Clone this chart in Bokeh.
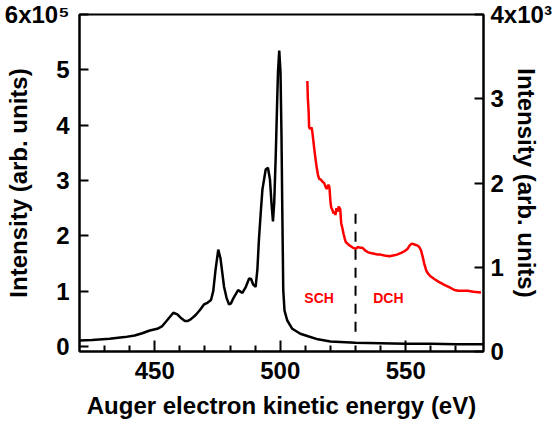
from bokeh.plotting import figure
from bokeh.models import Range1d, LinearAxis, FixedTicker
from bokeh.embed import file_html
from bokeh.resources import INLINE
from bokeh.core.properties import value

# ---- data ----
# black: Auger spectrum (left axis, units of 1e5)
black_x = [420, 425, 432, 438, 442, 445, 448, 451, 453, 455, 457.4, 459, 460.3, 462, 463,
           464.3, 466.3, 468, 469.6, 471, 472.4, 473.3, 474.2, 475.3, 476.2, 477, 477.6,
           478.6, 479.6, 480.4, 481.3, 483.2, 484.9, 486.3, 487.6, 488.4, 489.2, 490.2,
           490.9, 491.5, 492.2, 492.9, 494.2, 495.1, 495.9, 496.5, 497.1, 497.6, 498.2,
           498.7, 499.1, 499.6, 500.1, 500.5, 500.8, 501.2, 501.7, 502.8, 504.8, 508,
           511.4, 515, 520, 530, 540, 550, 560, 570, 581]
black_y = [0.11, 0.12, 0.14, 0.17, 0.20, 0.24, 0.29, 0.32, 0.37, 0.48, 0.61, 0.58, 0.52, 0.46, 0.46,
           0.49, 0.57, 0.66, 0.76, 0.79, 0.84, 1.00, 1.38, 1.75, 1.59, 1.30, 1.08,
           0.88, 0.76, 0.78, 0.87, 1.02, 0.97, 1.08, 1.23, 1.22, 1.12, 1.08,
           1.40, 1.93, 2.40, 2.84, 3.20, 3.23, 3.02, 2.60, 2.26, 2.60, 3.44,
           4.30, 4.96, 5.35, 4.96, 3.80, 2.53, 1.02, 0.65, 0.47, 0.32, 0.23,
           0.18, 0.13, 0.09, 0.07, 0.06, 0.05, 0.05, 0.04, 0.04]

# red: magnified high-energy part (right axis, units of 1e3)
red_x = [510.8, 511.0, 511.3, 511.5, 512.0, 512.5, 512.8, 513.2, 513.5, 514.0, 514.5, 515.0,
         515.5, 516.2, 517.0, 517.5, 518.0, 518.5, 519.2, 519.6, 520.0, 520.3, 520.8, 521.2,
         521.6, 522.0, 522.4, 522.8, 523.3, 523.9, 524.3, 524.8, 525.2, 525.7, 526.1, 526.8,
         527.5, 528.1, 529.0, 530.1, 531.0, 532.0, 532.8, 533.8, 534.8, 536.0, 537.5, 538.8,
         540.0, 541.5, 543.5, 545.0, 546.5, 548.2, 549.5, 550.8, 551.6, 552.4, 553.5, 554.5,
         555.4, 556.1, 556.8, 557.4, 558.2, 559.0, 560.0, 561.4, 563.0, 565.4, 567.5, 569.4,
         571.0, 573.0, 574.7, 577.0, 580.0]
red_y = [3.21, 3.00, 2.86, 2.66, 2.64, 2.66, 2.60, 2.50, 2.42, 2.30, 2.19, 2.10,
         2.05, 2.04, 2.01, 2.00, 1.96, 1.93, 1.98, 1.95, 1.78, 1.71, 1.68, 1.64,
         1.66, 1.62, 1.70, 1.66, 1.72, 1.69, 1.52, 1.46, 1.40, 1.34, 1.30, 1.28,
         1.26, 1.25, 1.23, 1.22, 1.24, 1.23, 1.23, 1.20, 1.18, 1.17, 1.16, 1.15,
         1.15, 1.14, 1.13, 1.14, 1.15, 1.17, 1.19, 1.22, 1.26, 1.28, 1.27, 1.26,
         1.24, 1.20, 1.12, 1.04, 0.96, 0.92, 0.89, 0.86, 0.83, 0.79, 0.76, 0.73,
         0.72, 0.72, 0.72, 0.71, 0.70]

divider_x = [530, 530]
divider_y = [2.40, 0.235]

region_x = [515.5, 543.1]
region_y = [0.87, 0.87]
region_labels = ["SCH", "DCH"]

left_ticks = [0, 1, 2, 3, 4, 5, 6]
left_top_label = "6x10\u2075"
right_ticks = [0, 1, 2, 3, 4]
right_top_label = "4x10\u00b3"
x_major = [450, 500, 550]
x_minor = [430, 440, 460, 470, 480, 490, 510, 520, 530, 540, 560, 570]

FONT = "Liberation Sans"
W, H = 553, 428

p = figure(width=W, height=H, output_backend="svg", toolbar_location=None,
           x_range=Range1d(420, 581), y_range=Range1d(-0.09, 6.0),
           min_border_left=79, min_border_right=70, min_border_top=14, min_border_bottom=77)
p.extra_y_ranges = {"right": Range1d(0, 4)}
p.grid.visible = False
p.outline_line_color = "black"
p.outline_line_width = 2
p.background_fill_color = "white"
p.border_fill_color = "white"

def style(ax, tick_in):
    ax.axis_line_width = 2
    ax.axis_line_color = "black"
    ax.major_tick_line_width = 2
    ax.major_tick_in = tick_in
    ax.major_tick_out = 0
    ax.major_label_text_font = FONT
    ax.major_label_text_font_style = "bold"
    ax.major_label_text_font_size = "24px"
    ax.major_label_text_color = "black"
    ax.axis_label = "Intensity (arb. units)"
    ax.axis_label_text_font = FONT
    ax.axis_label_text_font_style = "bold"
    ax.axis_label_text_font_size = "24px"
    ax.axis_label_text_color = "black"

xa = p.xaxis[0]
xa.ticker = FixedTicker(ticks=x_major, minor_ticks=x_minor)
style(xa, 11)
xa.axis_label = "Auger electron kinetic energy (eV)"
xa.minor_tick_in = 6
xa.minor_tick_out = 0
xa.minor_tick_line_width = 2
xa.major_label_standoff = 10
xa.axis_label_standoff = 10

ya = p.yaxis[0]
ya.ticker = FixedTicker(ticks=left_ticks)
style(ya, 9)
ya.minor_tick_line_color = None
ya.major_label_overrides = {6: left_top_label}
ya.major_label_standoff = 10
ya.axis_label_standoff = -30

ra = LinearAxis(y_range_name="right", ticker=FixedTicker(ticks=right_ticks))
style(ra, 9)
ra.minor_tick_line_color = None
ra.major_label_overrides = {4: right_top_label}
ra.major_label_standoff = 7
ra.axis_label_standoff = -42
p.add_layout(ra, "right")

p.line(black_x, black_y, line_color="black", line_width=2.5)
p.line(red_x, red_y, y_range_name="right", line_color="#ff0000", line_width=2.5)
p.line(divider_x, divider_y, line_color="black", line_width=2, line_dash="10 8")
p.text(x=region_x, y=region_y, text=region_labels, text_font=value(FONT),
       text_font_style="bold", text_font_size="14px", text_color="#ff0000",
       text_align="center", text_baseline="middle")

open("out.html", "w").write(file_html(p, INLINE))
